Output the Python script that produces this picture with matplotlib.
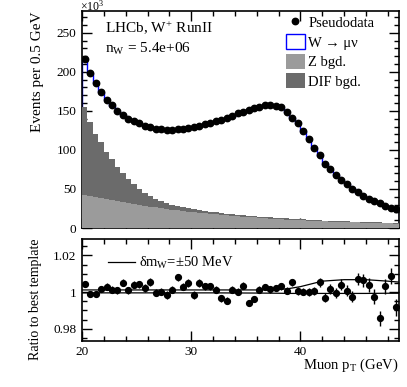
import numpy as np
import matplotlib
matplotlib.use("Agg")
import matplotlib.pyplot as plt
from matplotlib.lines import Line2D
from matplotlib.patches import Patch
from matplotlib.ticker import MultipleLocator, FuncFormatter

plt.rcParams['font.family'] = ['Liberation Serif', 'DejaVu Serif']
plt.rcParams['mathtext.fontset'] = 'stix'

# ---------------- data (values in units of 10^3) ----------------
bin_lo, bin_hi, bin_w = 20.0, 49.0, 0.5

pseudodata = [217, 198.5, 186, 174, 164, 157, 150.5, 145, 140, 137,
              134, 131, 129, 127.3, 126.3, 125.6, 125.5, 126.2, 127.3, 128.6,
              129.8, 131, 133.5, 135, 137, 138.5, 140.5, 143, 147, 149,
              151, 153.5, 155.5, 157, 157.8, 156.5, 154.5, 149, 141.5, 134,
              124.5, 114.5, 102, 93, 82, 75, 68.5, 62, 56.5, 50.5,
              45.5, 41, 37.5, 34.3, 31.5, 28.7, 26.2, 24]

z_bgd = [42, 41, 40, 38.5, 37, 35.5, 34, 33, 31.5, 30.5,
         29.5, 28.5, 27.5, 26.5, 25.5, 24.5, 23.5, 22.5, 21.5, 20.8,
         20, 19.3, 18.6, 18, 17.4, 16.8, 16.2, 15.6, 15, 14.5,
         14, 13.5, 13, 12.5, 12, 11.6, 11.2, 10.8, 10.4, 10,
         9.7, 9.4, 9.1, 8.8, 8.5, 8.2, 7.9, 7.7, 7.5, 7.3,
         7.1, 6.9, 6.7, 6.5, 6.3, 6.1, 5.9, 5.7]

dif_bgd = [113, 95, 81, 71.5, 61, 52.5, 44.5, 37, 31, 25.5,
           20.5, 16.5, 13.5, 11, 9, 7.5, 6.5, 5.7, 5, 4.2,
           3.8, 3.4, 3.1, 2.8, 2.6, 2.4, 2.2, 2.1, 2.0, 1.9,
           1.8, 1.7, 1.6, 1.6, 1.6, 1.5, 1.4, 1.4, 1.4, 1.4,
           1.3, 1.2, 1.1, 1.1, 1.1, 1.1, 1.1, 1.0, 0.9, 0.9,
           0.9, 0.8, 0.8, 0.8, 0.8, 0.8, 0.8, 0.8]

ratio = [1.0045, 0.999, 0.999, 1.0016, 1.003, 1.0013, 1.0009, 1.005, 1.0009, 1.004,
         1.0043, 1.0022, 1.0055, 0.9998, 1.0003, 0.9985, 1.0013, 1.008, 1.003, 1.005,
         0.9985, 1.0049, 1.0031, 1.0031, 1.0013, 0.9967, 0.9952, 1.0013, 1.0003, 1.0035,
         0.994, 0.9963, 1.0013, 1.0027, 1.0016, 1.0022, 1.0031, 1.0007, 1.0053, 1.0007,
         1.0003, 1.0, 1.0007, 1.0053, 0.997, 1.0016, 0.9995, 1.004, 1.0007, 0.9976,
         1.0071, 1.0064, 1.004, 0.9976, 0.9857, 1.0031, 1.0086, 0.9918]

ratio_err = [0.0015, 0.0016, 0.0017, 0.0017, 0.0018, 0.0018, 0.0018, 0.0019, 0.0019, 0.0019,
             0.0020, 0.0020, 0.0020, 0.0020, 0.0020, 0.0020, 0.0020, 0.0020, 0.0020, 0.0020,
             0.0020, 0.0020, 0.0020, 0.0020, 0.0019, 0.0019, 0.0019, 0.0019, 0.0019, 0.0019,
             0.0018, 0.0018, 0.0018, 0.0018, 0.0018, 0.0018, 0.0018, 0.0019, 0.0019, 0.0020,
             0.0020, 0.0021, 0.0022, 0.0023, 0.0025, 0.0026, 0.0027, 0.0029, 0.0030, 0.0032,
             0.0034, 0.0035, 0.0037, 0.0039, 0.0040, 0.0042, 0.0044, 0.0046]

# delta m_W = +-50 MeV template ratios
dm_x = [20, 24, 28, 32, 36, 38, 39, 40, 41, 42, 44, 46, 48, 49]
dm_up = [1.0012, 1.0012, 1.0012, 1.0012, 1.0012, 1.0014, 1.002, 1.003, 1.0045, 1.006, 1.0068, 1.0068, 1.006, 1.0055]
dm_dn = [0.9996, 0.9996, 0.9996, 0.9996, 0.9995, 0.9994, 0.9993, 0.9993, 0.9993, 0.9993, 0.9993, 0.9993, 0.9994, 0.9994]

# ---------------- derived ----------------
edges = np.arange(bin_lo, bin_hi + bin_w / 2, bin_w)
centers = 0.5 * (edges[:-1] + edges[1:])
data = np.array(pseudodata)
rat = np.array(ratio)
template = data / rat
z = np.array(z_bgd)
dif = np.array(dif_bgd)

# ---------------- figure ----------------
W, H = 407, 387
fig = plt.figure(figsize=(W / 100, H / 100), dpi=100)
ax1 = fig.add_axes([82 / W, 1 - 228 / H, (398.7 - 82) / W, (228 - 11) / H])
ax2 = fig.add_axes([82 / W, 1 - 340.7 / H, (398.7 - 82) / W, (340.7 - 239) / H])

light = '#9b9b9b'
dark = '#6b6b6b'

ax1.stairs(template, edges, baseline=0, color='#0000ff', lw=1.0, zorder=2)
ax1.stairs(z + dif, edges, baseline=0, fill=True, color=dark, lw=0, zorder=3)
ax1.stairs(z, edges, baseline=0, fill=True, color=light, lw=0, zorder=4)
ax1.plot(centers, data, 'o', color='black', ms=4.6, zorder=5)

ax1.set_xlim(bin_lo, bin_hi)
ax1.set_ylim(0, 278)

# ratio panel
ax2.plot(dm_x, dm_up, color='black', lw=0.9)
ax2.plot(dm_x, dm_dn, color='black', lw=0.9)
ax2.errorbar(centers, rat, yerr=ratio_err, fmt='o', color='black', ms=4.2,
             elinewidth=1.0, capsize=0)
ax2.set_xlim(bin_lo, bin_hi)
ax2.set_ylim(0.9735, 1.029)

for ax in (ax1, ax2):
    ax.tick_params(which='both', direction='in', top=True, right=True,
                   labelsize=9.5, width=1.0)
    ax.tick_params(which='major', length=7.5, pad=4)
    ax.tick_params(which='minor', length=3.8)
    ax.xaxis.set_major_locator(MultipleLocator(10))
    ax.xaxis.set_minor_locator(MultipleLocator(2))
    for s in ax.spines.values():
        s.set_linewidth(1.2)

ax1.yaxis.set_major_locator(MultipleLocator(50))
ax1.yaxis.set_minor_locator(MultipleLocator(10))
ax1.tick_params(axis='x', labelbottom=False)
ax2.yaxis.set_major_locator(MultipleLocator(0.02))
ax2.yaxis.set_minor_locator(MultipleLocator(0.005))
ax2.yaxis.set_major_formatter(FuncFormatter(lambda v, p: '%g' % round(v, 4)))

ax1.set_ylabel('Events per 0.5 GeV', fontsize=11, loc='top')
ax1.yaxis.set_label_coords(-0.12, 1.0)
ax2.set_ylabel('Ratio to best template', fontsize=10, loc='top')
ax2.yaxis.set_label_coords(-0.125, 1.0)
ax2.set_xlabel('Muon p$_\\mathregular{T}$ (GeV)', fontsize=10.5, loc='right')
ax2.xaxis.set_label_coords(1.0, -0.155)

fig.text(80 / W, 1 - 10.5 / H, '×10$^\\mathregular{3}$', fontsize=8.5, va='baseline', ha='left')

ax1.text(0.073, 0.899, 'LHCb, W$^\\mathregular{+}$ RunII', transform=ax1.transAxes,
         fontsize=11, va='baseline')
ax1.text(0.073, 0.806, 'n$_\\mathregular{W}$ = 5.4e+06', transform=ax1.transAxes,
         fontsize=11, va='baseline')

handles = [Line2D([], [], marker='o', ls='none', color='black', ms=4.6),
           Patch(facecolor='white', edgecolor='#0000ff', lw=1.0),
           Patch(facecolor=light, edgecolor='none'),
           Patch(facecolor=dark, edgecolor='none')]
labels = ['Pseudodata', 'W → μν', 'Z bgd.', 'DIF bgd.']
leg = ax1.legend(handles, labels, loc='upper right', bbox_to_anchor=(0.955, 1.03),
                 frameon=False, fontsize=10.5, handlelength=1.3, handleheight=1.2,
                 handletextpad=0.25, labelspacing=0.28, borderaxespad=0.3)

lh = [Line2D([], [], color='black', lw=0.9)]
ax2.legend(lh, ['δm$_\\mathregular{W}$=±50 MeV'], loc='upper left',
           bbox_to_anchor=(0.065, 0.9), frameon=False, fontsize=10.5,
           handlelength=1.8, handletextpad=0.3, borderaxespad=0.0)

fig.savefig('out.png', dpi=100)
